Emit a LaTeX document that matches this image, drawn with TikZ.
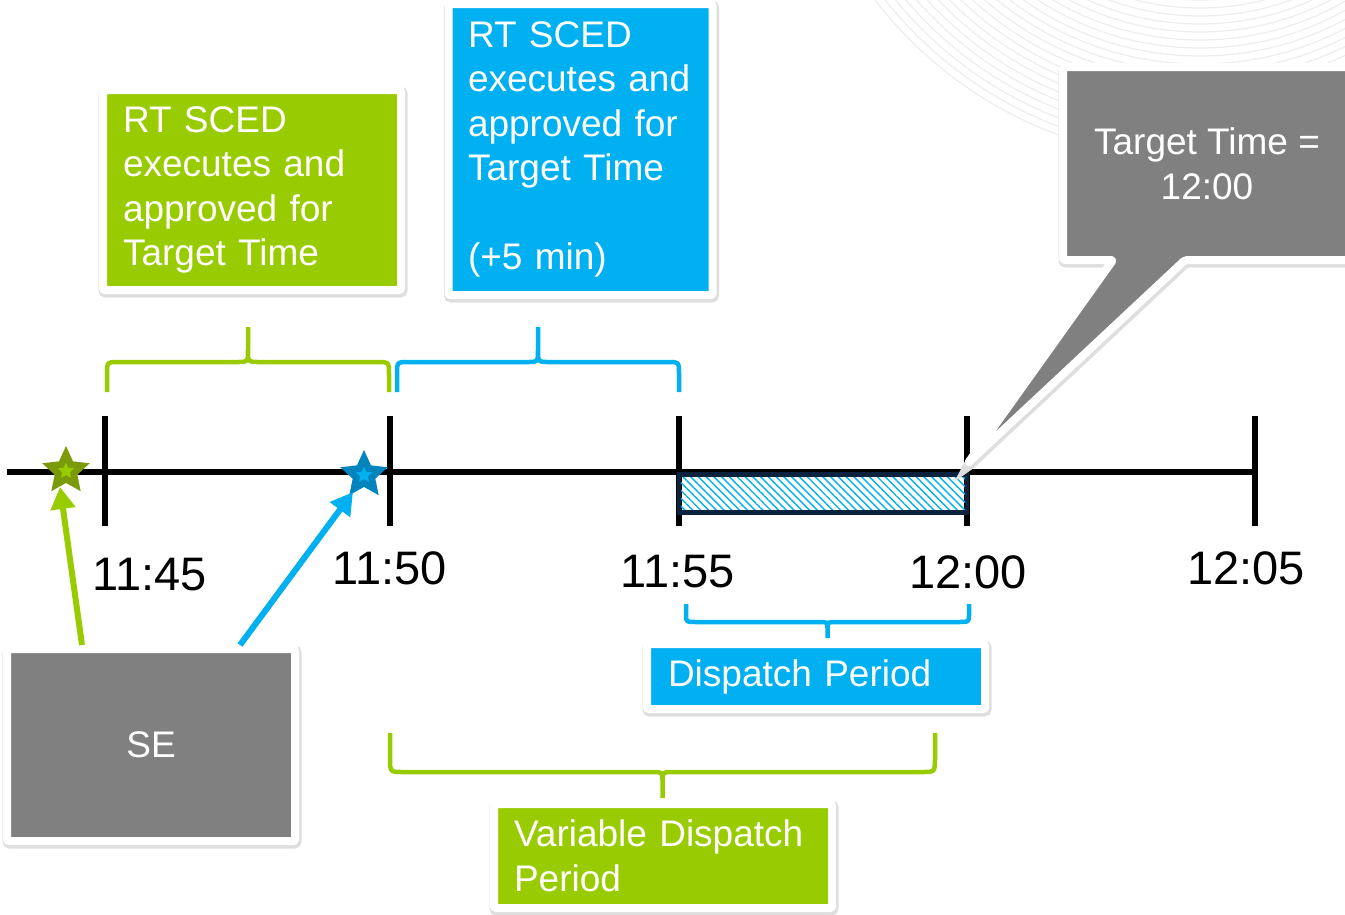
\documentclass[tikz,border=0pt]{standalone}
\usepackage{fontspec}
\setmainfont{Liberation Sans}
\usetikzlibrary{shapes.geometric,arrows.meta,patterns.meta}

\definecolor{scedgreen}{HTML}{99CC00}
\definecolor{scedblue}{HTML}{00B0F0}
\definecolor{segray}{HTML}{808080}
\definecolor{hatchnavy}{HTML}{0C2340}
\definecolor{stargreen}{HTML}{7A9A0A}
\definecolor{starblue}{HTML}{0084BD}

\tikzset{
  halo/.style={preaction={draw=black!13, line width=11pt, transform canvas={xshift=1pt,yshift=-2pt}}},
  card/.style={halo, draw=white, line width=8pt, rounded corners=2pt, outer sep=0pt, inner sep=0pt,
    text=white, align=left, font=\fontsize{37}{44.5}\selectfont},
  callout/.style={halo, draw=white, fill=segray, line width=8pt, line join=round, rounded corners=2pt},
  calltext/.style={text=white, align=center, inner sep=0pt, font=\fontsize{37}{44.5}\selectfont},
  timelbl/.style={inner sep=0pt, font=\fontsize{47}{50}\selectfont},
  tick/.style={line width=5.5pt},
  brace/.style={line width=4.5pt, line join=round},
  ring/.style={draw=black!7, line width=1.2pt},
  hatchbox/.style={draw=hatchnavy, line width=4.5pt,
    pattern={Lines[angle=-45, distance=5.5pt, line width=1.4pt]}, pattern color=scedblue},
  arrowline/.style={line width=6pt, -{Triangle[length=22pt,width=24pt]}},
  bigstar/.style={star, star points=5, star point ratio=2.1, minimum size=50pt, inner sep=0pt},
  smallstar/.style={star, star points=5, star point ratio=2.1, minimum size=17pt, inner sep=0pt}
}

% colour, left x, right x, end y, bar y, tip y
\newcommand{\tbrace}[6]{%
  \pgfmathsetmacro\bxm{(#2+#3)/2}
  \pgfmathsetmacro\bya{#5+(#4-#5)*0.4}
  \pgfmathsetmacro\byc{#5+(#6-#5)*0.35}
  \draw[brace,#1] (#2,#4) -- (#2,\bya) .. controls (#2,#5) .. ({#2+12},#5)
    -- ({\bxm-10},#5) .. controls (\bxm,#5) .. (\bxm,\byc) -- (\bxm,#6)
    (\bxm,\byc) .. controls (\bxm,#5) .. ({\bxm+10},#5)
    -- ({#3-12},#5) .. controls (#3,#5) .. (#3,\bya) -- (#3,#4);
}

\begin{document}
\begin{tikzpicture}[x=1pt,y=-1pt]
\useasboundingbox (0,0) rectangle (1345,914);
% faint rings, top right
\begin{scope}
  \clip (0,0) rectangle (1345,914);
  \foreach \r in {250,258,...,410}
    \draw[ring] (1200,-250) circle[radius=\r];
\end{scope}

% braces
\tbrace{scedgreen}{107}{389}{392}{362}{327}
\tbrace{scedblue}{397}{679}{392}{362}{327}
\tbrace{scedblue}{686}{969}{604}{622}{638}
\tbrace{scedgreen}{390}{935}{733}{772}{798}

% time axis
\draw[tick] (7,472) -- (1255,472);
\foreach \n/\x/\lx/\ly/\lab in {45/105/150/575/11:45, 50/390/390/568/11:50,
    55/679/678/572/11:55, 00/967/968/572/12:00, 05/1255/1246/568/12:05}{
  \coordinate (t\n) at (\x,472);
  \draw[tick] (\x,416) -- (\x,526);
  \node[timelbl] (l\n) at (\lx,\ly) {\lab};
}
\draw[hatchbox] ([yshift=-2.5pt]t55) rectangle ([yshift=-40.5pt]t00);

% stars
\node[bigstar, fill=stargreen] (star1) at (66,471) {};
\node[smallstar, fill=scedgreen] (star1c) at (star1) {};
\node[bigstar, fill=starblue] (star2) at (364,475) {};
\node[smallstar, fill=scedblue] (star2c) at (star2) {};

% boxes
\node[card, fill=scedgreen, anchor=north west, minimum width=298pt, minimum height=200pt,
  text width=258pt, inner xsep=20pt] (sced1) at (103,90)
  {RT SCED\\executes and\\approved for\\Target Time};
\node[card, fill=scedblue, anchor=north west, minimum width=264pt, minimum height=291pt,
  text width=225pt, inner xsep=19.5pt] (sced2) at (448.5,4)
  {RT SCED\\executes and\\approved for\\Target Time\\[44.5pt](+5 min)};
\node[card, fill=scedblue, anchor=north west, minimum width=338pt, minimum height=65pt,
  text width=296pt, inner xsep=21pt] (disp) at (647,644) {Dispatch Period};
\node[card, fill=scedgreen, anchor=north west, minimum width=338pt, minimum height=104pt,
  text width=298pt, inner xsep=20pt] (vdisp) at (494,804) {Variable Dispatch\\Period};
\node[card, fill=segray, align=center, minimum width=288pt, minimum height=192pt] (se) at (151,745) {SE};

% arrows from SE
\draw[arrowline, scedgreen] ([xshift=75pt,yshift=4pt]se.north west) -- ([xshift=-6pt,yshift=-16pt]star1.center);
\draw[arrowline, scedblue] ([xshift=233pt,yshift=4pt]se.north west) -- ([xshift=-11pt,yshift=-17pt]star2.center);

% callout
\coordinate (tip) at (968,463);
\path[callout] (1063,67) -- (1352,67) -- (1352,260) -- (1185,260) -- (tip) -- (1113,260) -- (1063,260) -- cycle;
\node[calltext] (target) at (1207,164) {Target Time =\\12:00};
\end{tikzpicture}
\end{document}
